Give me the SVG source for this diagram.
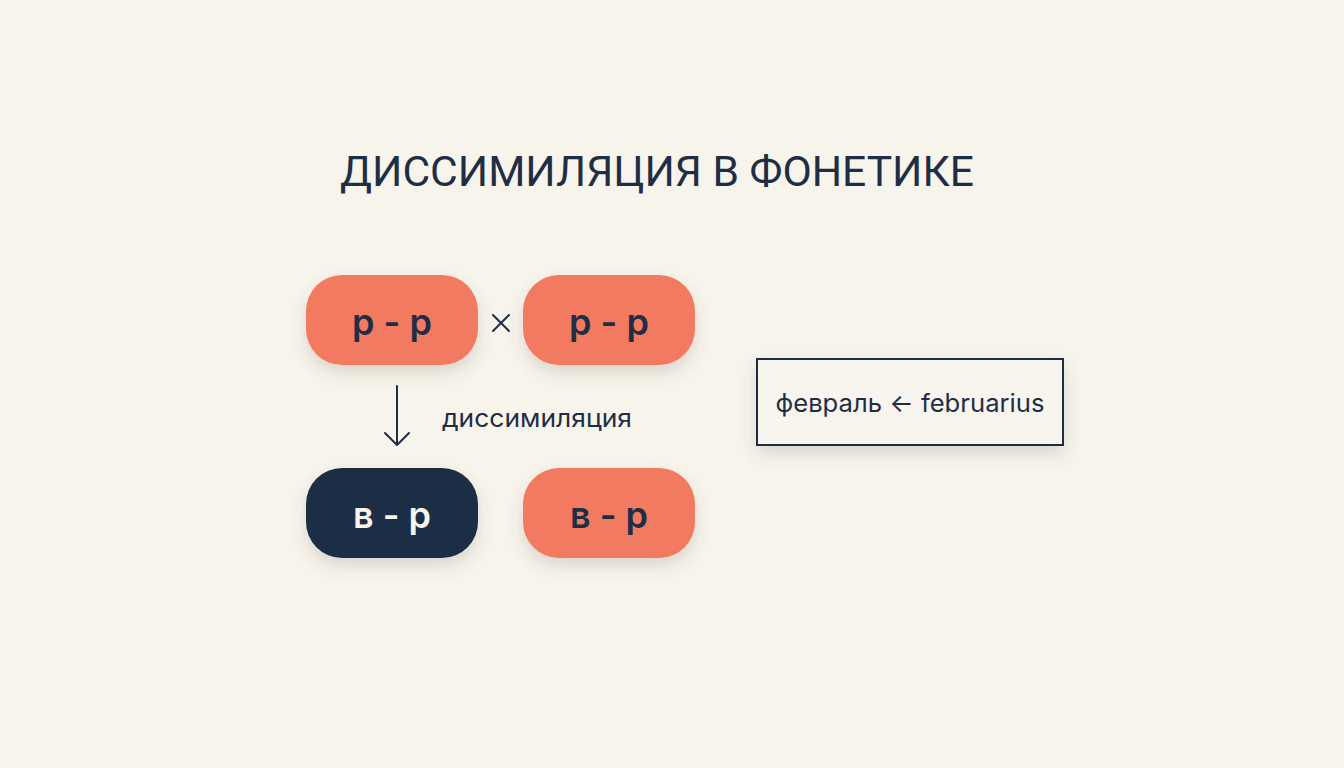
<svg xmlns="http://www.w3.org/2000/svg" width="1344" height="768" viewBox="0 0 1344 768">
<defs>
<filter id="sh" x="-30%" y="-30%" width="160%" height="180%">
<feDropShadow dx="0" dy="8" stdDeviation="8" flood-color="#5a5040" flood-opacity="0.18"/>
</filter>
<style>
.pill{fill:#f27a60}
.dark{fill:#1f2e45}
.t{font-family:Inter,"Noto Sans",sans-serif;font-weight:500;text-anchor:middle}
.big{font-size:36px;font-weight:600}
.lbl{font-size:25px;fill:#1f2e45;font-weight:400}
.ink{fill:#1f2e45}
.light{fill:#f7f4ec}
.ln{stroke:#1f2e45;stroke-width:2;fill:none;stroke-linecap:round;stroke-linejoin:round}
</style>
</defs>
<rect width="1344" height="768" fill="#f7f4ec"/>
<text x="657" y="186" class="t ink" font-size="42" style="font-family:Roboto,'Noto Sans',sans-serif;font-weight:400" textLength="634" lengthAdjust="spacingAndGlyphs">ДИССИМИЛЯЦИЯ В ФОНЕТИКЕ</text>
<g id="node-rr1">
<rect x="306" y="275" width="172" height="90" rx="36" class="pill" filter="url(#sh)"/>
<text x="392" y="335" class="t big ink">р - р</text>
</g>
<g id="cross">
<path d="M493,315 L509,331 M509,315 L493,331" class="ln"/>
</g>
<g id="node-rr2">
<rect x="523" y="275" width="172" height="90" rx="36" class="pill" filter="url(#sh)"/>
<text x="609" y="335" class="t big ink">р - р</text>
</g>
<g id="node-vr1">
<rect x="306" y="468" width="172" height="90" rx="36" class="dark" filter="url(#sh)"/>
<text x="392" y="528" class="t big light">в - р</text>
</g>
<g id="node-vr2">
<rect x="523" y="468" width="172" height="90" rx="36" class="pill" filter="url(#sh)"/>
<text x="609" y="528" class="t big ink">в - р</text>
</g>
<g id="connectors">
<path d="M397,386 L397,445 M385,433 L397,445 L409,433" class="ln"/>
<text x="537" y="427" class="t lbl" textLength="190" lengthAdjust="spacingAndGlyphs">диссимиляция</text>
</g>
<g id="node-feb">
<rect x="757" y="359" width="306" height="86" fill="#f7f5ee" stroke="#1f2e45" stroke-width="2" filter="url(#sh)"/>
<text x="910" y="412" class="t lbl" textLength="269" lengthAdjust="spacingAndGlyphs">февраль ← februarius</text>
</g>
</svg>
